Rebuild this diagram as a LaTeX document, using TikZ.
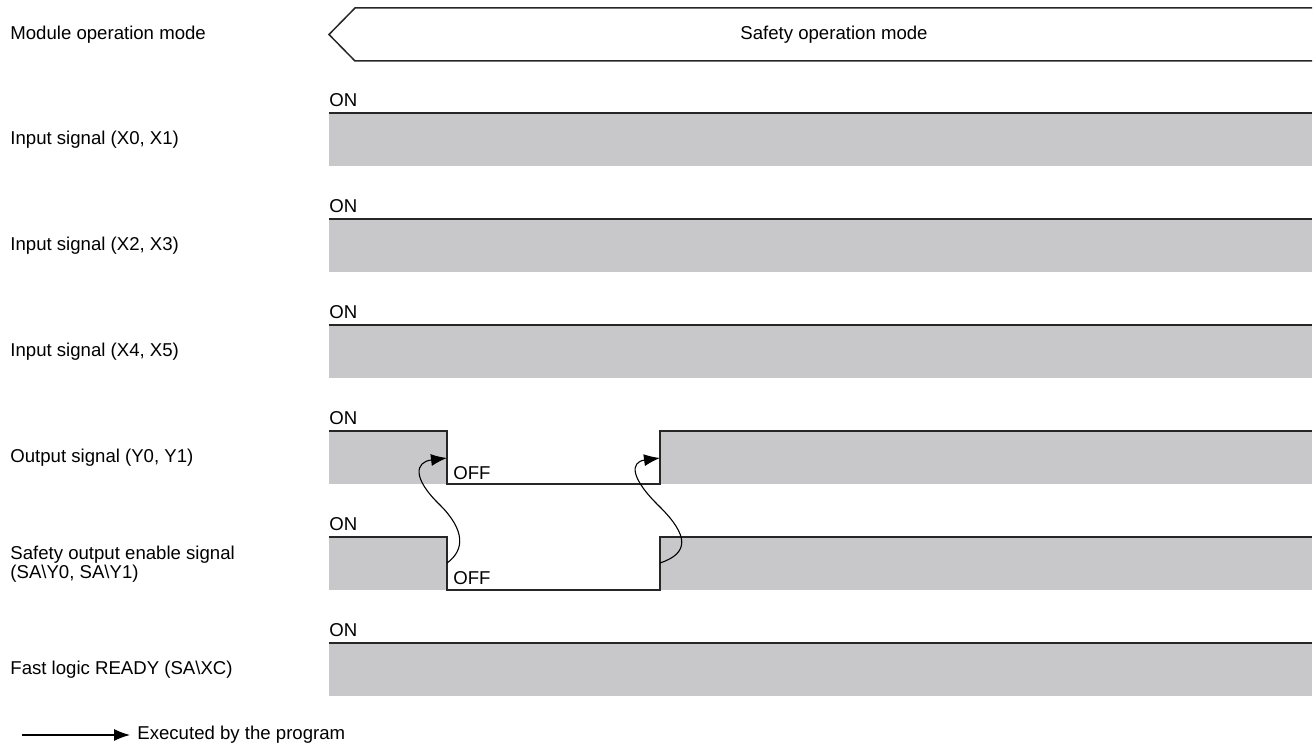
\documentclass[tikz,border=0pt]{standalone}
\usepackage{fontspec}
\setmainfont{Liberation Sans}
\usetikzlibrary{arrows.meta, positioning}
\definecolor{sigfill}{RGB}{200,200,202}

\begin{document}
\begin{tikzpicture}[
    x=0.5pt, y=-0.5pt,
    every node/.style={font=\fontsize{9.3}{9.8}\selectfont},
    rowlabel/.style={anchor=west, align=left, inner sep=0pt},
    level/.style={anchor=west, inner sep=0pt},
    sigon/.style={fill=sigfill},
    sigline/.style={draw=black!85, line width=0.75pt},
    prog/.style={draw=black, line width=0.55pt, -{Latex[length=8pt, width=6pt]}}
]
\useasboundingbox (0,0) rectangle (1313,749);

% Mode banner
\draw[sigline, fill=white] (1312,8) -- (355,8) -- (329,34.5) -- (355,61) -- (1312,61);
\node (mode) at (834,34.5) {Safety operation mode};

% Row labels
\node[rowlabel] (lmode) at (10,34.5) {Module operation mode};
\node[rowlabel] (lx01) at (10,140) {Input signal (X0, X1)};
\node[rowlabel] (lx23) at (10,246) {Input signal (X2, X3)};
\node[rowlabel] (lx45) at (10,352) {Input signal (X4, X5)};
\node[rowlabel] (ly01) at (10,458) {Output signal (Y0, Y1)};
\node[rowlabel] (lsa) at (10,564) {Safety output enable signal\\(SA\textbackslash Y0, SA\textbackslash Y1)};
\node[rowlabel] (lxc) at (10,670) {Fast logic READY (SA\textbackslash XC)};

% Input signals (always ON)
\fill[sigon] (329,113) rectangle (1312,166);
\draw[sigline] (329,113) -- (1312,113);
\node[level] (on1) at (329,100) {ON};

\fill[sigon] (329,219) rectangle (1312,272);
\draw[sigline] (329,219) -- (1312,219);
\node[level] (on2) at (329,206) {ON};

\fill[sigon] (329,325) rectangle (1312,378);
\draw[sigline] (329,325) -- (1312,325);
\node[level] (on3) at (329,312) {ON};

% Output signal
\fill[sigon] (329,431) rectangle (447,484);
\fill[sigon] (660,431) rectangle (1312,484);
\draw[sigline] (329,431) -- (447,431) -- (447,484) -- (660,484) -- (660,431) -- (1312,431);
\node[level] (on4) at (329,418) {ON};
\node[level] (off4) at (453,473) {OFF};

% Safety output enable signal
\fill[sigon] (329,537) rectangle (447,590);
\fill[sigon] (660,537) rectangle (1312,590);
\draw[sigline] (329,537) -- (447,537) -- (447,590) -- (660,590) -- (660,537) -- (1312,537);
\node[level] (on5) at (329,524) {ON};
\node[level] (off5) at (453,578) {OFF};

% Fast logic READY
\fill[sigon] (329,643) rectangle (1312,696);
\draw[sigline] (329,643) -- (1312,643);
\node[level] (on6) at (329,630) {ON};

% Program actions
\coordinate (saoff) at (447,563);
\coordinate (yoff) at (447,458);
\coordinate (saon) at (660,563);
\coordinate (yon) at (660,458);
\draw[prog] (saoff) .. controls (465,550) and (465,530) .. (440,505)
    .. controls (412,478) and (415,462) .. (yoff);
\draw[prog] (saon) .. controls (690,553) and (688,535) .. (660,507)
    .. controls (630,478) and (630,462) .. (yon);

% Legend
\coordinate (lgs) at (22,735);
\node[level] (lgtext) at (137,735) {Executed by the program};
\draw[prog] (lgs) -- ([xshift=-3.5pt]lgtext.west);

\end{tikzpicture}
\end{document}
